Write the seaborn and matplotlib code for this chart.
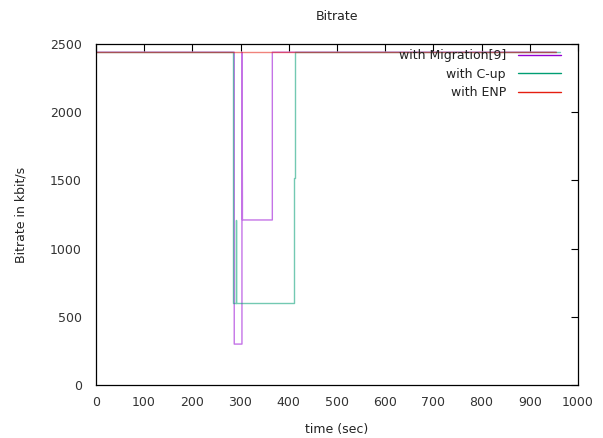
import matplotlib
matplotlib.use("Agg")
import matplotlib.pyplot as plt
from matplotlib.lines import Line2D
import seaborn as sns
import pandas as pd

# Data (time in sec, bitrate in kbit/s)
mig_t = [0, 287, 287, 303, 303, 304, 304, 366, 366, 955]
mig_v = [2440, 2440, 300, 300, 2440, 1370, 1210, 1210, 2440, 2440]

cup_t = [0, 285, 285, 291, 291, 291, 410, 410, 412, 412, 962]
cup_v = [2440, 2440, 600, 600, 1210, 600, 600, 1517, 1517, 2440, 2440]

enp_t = [0, 955]
enp_v = [2440, 2440]

labels = ["with Migration[9]", "with C-up", "with ENP"]
colors = ["#9400D3", "#009E73", "#E51E10"]

xticks = list(range(0, 1001, 100))
yticks = list(range(0, 2501, 500))

sns.set_style("white")
plt.rcParams['font.family'] = ['DejaVu Sans']

fig = plt.figure(figsize=(6.03, 4.38), dpi=100)
ax = fig.add_axes([0.159, 0.121, 0.7995, 0.7785])

series = [(mig_t, mig_v), (cup_t, cup_v), (enp_t, enp_v)]
for (t, v), c in zip(series, colors):
    df = pd.DataFrame({"t": t, "v": v})
    sns.lineplot(data=df, x="t", y="v", sort=False, estimator=None,
                 color=c, alpha=0.55, linewidth=1.0, ax=ax)

ax.set_xlim(0, 1000)
ax.set_ylim(0, 2500)
ax.set_xticks(xticks)
ax.set_yticks(yticks)
ax.tick_params(direction="in", length=5, width=0.8, top=True, right=True,
               labelsize=9, colors="#000000", labelcolor="#333333")
ax.tick_params(axis="x", pad=8)
ax.tick_params(axis="y", pad=10)
for s in ax.spines.values():
    s.set_color("black")
    s.set_linewidth(0.9)

ax.set_xlabel("time (sec)", fontsize=9, color="#222222", labelpad=10)
ax.set_ylabel("Bitrate in kbit/s", fontsize=9, color="#222222", labelpad=16)
ax.set_title("Bitrate", fontsize=9, color="#222222", pad=17)

handles = [Line2D([0], [0], color=c, lw=1.0) for c in colors]
leg = ax.legend(handles, labels, loc="upper right", frameon=False,
                markerfirst=False, fontsize=9, handlelength=3.4,
                handletextpad=1.0, labelspacing=0.45, borderaxespad=0.0,
                bbox_to_anchor=(0.975, 1.0))
for txt in leg.get_texts():
    txt.set_color("#222222")

fig.savefig("out.png", dpi=100)
